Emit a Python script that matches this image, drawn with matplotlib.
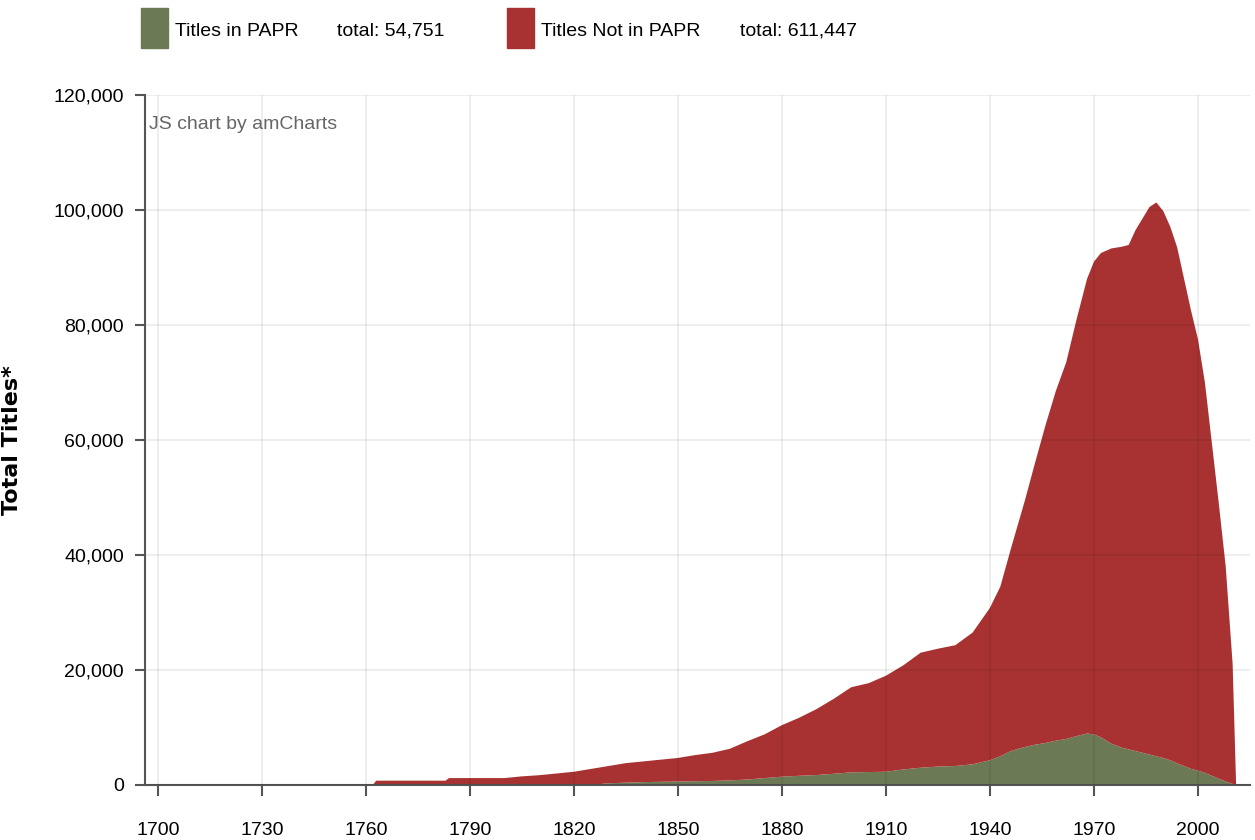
import matplotlib
matplotlib.use("Agg")
import matplotlib.pyplot as plt
from matplotlib.patches import Rectangle
from matplotlib.ticker import FuncFormatter

# values
years = [1695, 1762, 1763, 1783, 1784, 1800, 1805, 1810, 1815, 1820, 1825, 1830,
         1835, 1840, 1845, 1850, 1855, 1860, 1865, 1870, 1875, 1880, 1885, 1890,
         1895, 1900, 1905, 1910, 1915, 1920, 1925, 1930, 1935, 1940, 1943, 1946,
         1950, 1953, 1956, 1959, 1962, 1965, 1968, 1970, 1972, 1975, 1978, 1980,
         1982, 1984, 1986, 1988, 1990, 1992, 1994, 1996, 1998, 2000, 2002, 2004,
         2006, 2008, 2010, 2011]

in_papr = [0, 0, 0, 0, 0, 0, 0, 0, 0, 0, 0, 300,
           400, 500, 550, 600, 650, 700, 800, 950, 1200, 1440, 1600, 1730,
           1950, 2200, 2250, 2300, 2700, 3000, 3200, 3300, 3600, 4300, 5000, 5900,
           6600, 7000, 7300, 7700, 8000, 8500, 8950, 8800, 8300, 7200, 6500, 6200,
           5900, 5600, 5300, 5000, 4700, 4300, 3750, 3300, 2800, 2500, 2100, 1600,
           1100, 600, 200, 0]

not_in_papr = [0, 0, 750, 750, 1200, 1200, 1500, 1700, 2000, 2300, 2800, 3000,
               3400, 3600, 3850, 4100, 4550, 4900, 5500, 6650, 7600, 8960, 10100, 11470,
               13050, 14800, 15450, 16700, 18100, 20000, 20500, 21000, 22900, 26500, 29500, 35100,
               42700, 49000, 55200, 60800, 65500, 72500, 79050, 82200, 84200, 86100, 87100, 87700,
               90600, 92900, 95200, 96300, 95100, 92800, 89750, 84700, 79700, 75000, 67900, 57900,
               47900, 37400, 20800, 0]

series_names = ["Titles in PAPR", "Titles Not in PAPR"]
series_totals = ["total: 54,751", "total: 611,447"]
colors = ["#6b7a55", "#a83232"]

x_ticks = list(range(1700, 2001, 30))
y_ticks = list(range(0, 120001, 20000))

plt.rcParams['font.family'] = ['Liberation Sans', 'DejaVu Sans']

fig = plt.figure(figsize=(12.55, 8.4), dpi=100)
ax = fig.add_axes([0.1155, 0.0655, 0.8805, 0.8215])

ax.stackplot(years, in_papr, not_in_papr, colors=colors, linewidth=0)

ax.set_xlim(1696.3, 2015)
ax.set_ylim(0, 120000)
ax.set_xticks(x_ticks)
ax.set_yticks(y_ticks)
ax.yaxis.set_major_formatter(FuncFormatter(lambda v, p: f"{int(v):,}"))

ax.grid(True, color="black", alpha=0.08, linewidth=1.2)
ax.set_axisbelow(False)

for s in ["top", "right"]:
    ax.spines[s].set_visible(False)
ax.spines["left"].set_color("#555555")
ax.spines["bottom"].set_color("#555555")
ax.spines["left"].set_linewidth(1.5)
ax.spines["bottom"].set_linewidth(1.5)

ax.tick_params(axis="y", length=7, width=1.5, color="#555555", pad=8, labelsize=14)
ax.tick_params(axis="x", length=8, width=1.5, color="#555555", pad=19, labelsize=14)

ax.set_ylabel("Total Titles*", fontsize=16, fontweight="bold", family="DejaVu Sans")
ax.yaxis.set_label_coords(-0.111, 0.5)

ax.text(0.004, 0.957, "JS chart by amCharts", transform=ax.transAxes,
        fontsize=14, color="#666666", va="center", ha="left")

# legend drawn by hand at the top
leg_x = [141, 507]
tot_off = [196, 233]
for i in range(2):
    x0 = leg_x[i] / 1255
    fig.patches.append(Rectangle((x0, 1 - 48 / 840), 27 / 1255, 40 / 840,
                                 transform=fig.transFigure, color=colors[i]))
    fig.text(x0 + 34 / 1255, 1 - 31 / 840, series_names[i], fontsize=14, va="center")
    fig.text(x0 + tot_off[i] / 1255, 1 - 31 / 840, series_totals[i],
             fontsize=14, va="center")

fig.savefig("out.png", dpi=100)
